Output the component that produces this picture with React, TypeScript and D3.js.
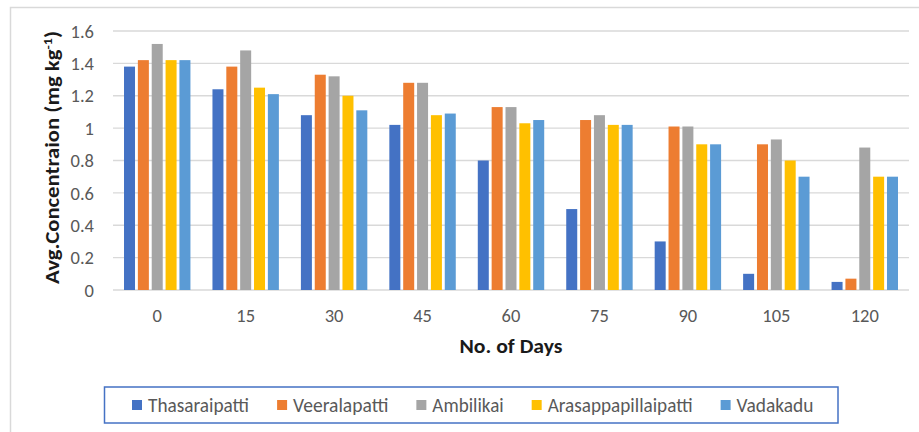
import React from "react";
import * as d3 from "d3";

const days = ["0", "15", "30", "45", "60", "75", "90", "105", "120"];
const seriesNames = ["Thasaraipatti", "Veeralapatti", "Ambilikai", "Arasappapillaipatti", "Vadakadu"];
const thasaraipatti = [1.38, 1.24, 1.08, 1.02, 0.8, 0.5, 0.3, 0.1, 0.05];
const veeralapatti = [1.42, 1.38, 1.33, 1.28, 1.13, 1.05, 1.01, 0.9, 0.07];
const ambilikai = [1.52, 1.48, 1.32, 1.28, 1.13, 1.08, 1.01, 0.93, 0.88];
const arasappapillaipatti = [1.42, 1.25, 1.2, 1.08, 1.03, 1.02, 0.9, 0.8, 0.7];
const vadakadu = [1.42, 1.21, 1.11, 1.09, 1.05, 1.02, 0.9, 0.7, 0.7];
const yTicks = [0, 0.2, 0.4, 0.6, 0.8, 1, 1.2, 1.4, 1.6];
const colors = ["#4472C4", "#ED7D31", "#A5A5A5", "#FFC000", "#5B9BD5"];

const allSeries = [thasaraipatti, veeralapatti, ambilikai, arasappapillaipatti, vadakadu];

const FONT = "Carlito, Lato, 'Open Sans', sans-serif";

export default function App() {
  const W = 919;
  const H = 432;
  const plotL = 113;
  const plotR = 909;
  const plotT = 31;
  const plotB = 290;

  const x0 = d3.scaleBand<string>().domain(days).range([plotL, plotR]).paddingInner(0).paddingOuter(0);
  const band = x0.bandwidth();
  const groupW = band * 0.751;
  const x1 = d3
    .scaleBand<string>()
    .domain(seriesNames)
    .range([(band - groupW) / 2, (band + groupW) / 2])
    .paddingInner(0.206)
    .paddingOuter(0);
  const y = d3.scaleLinear().domain([0, 1.6]).range([plotB, plotT]);

  // legend layout
  const legendTextSize = 19.5;
  const sq = 10;
  const charW = (s: string) => {
    // approximate Calibri advance widths (em) at 19px
    const m: Record<string, number> = {
      T: 0.487, V: 0.579, A: 0.579, a: 0.479, b: 0.525, d: 0.525, e: 0.498, h: 0.525, i: 0.229,
      k: 0.455, l: 0.229, m: 0.799, p: 0.525, r: 0.349, s: 0.391, t: 0.335, u: 0.525,
    };
    return s.split("").reduce((acc, c) => acc + (m[c] ?? 0.5), 0) * 19;
  };
  let lx = 132;
  const legendItems = seriesNames.map((name, i) => {
    const w = charW(name);
    const item = { name, color: colors[i], x: lx, w };
    lx += sq + 6 + w + 28;
    return item;
  });

  return (
    <div style={{ position: "fixed", left: 0, top: 0, width: W, height: H, background: "#fff" }}>
      <svg width={W} height={H} style={{ display: "block" }} fontFamily={FONT}>
        <rect x={0} y={0} width={W} height={H} fill="#fff" />
        <rect x={10.5} y={7.5} width={W + 20} height={H + 20} fill="none" stroke="#d9d9d9" strokeWidth={1.5} />
        {yTicks.map((t) => (
          <g key={t}>
            <line x1={plotL} x2={plotR} y1={y(t)} y2={y(t)} stroke="#d9d9d9" strokeWidth={1.3} />
            <text x={94} y={y(t)} dy="0.36em" textAnchor="end" fontSize={18.5} fill="#595959">
              {d3.format("")(t)}
            </text>
          </g>
        ))}
        {days.map((d, di) => (
          <g key={d} transform={`translate(${x0(d)},0)`}>
            {seriesNames.map((s, si) => {
              const v = allSeries[si][di];
              return (
                <rect
                  key={s}
                  x={x1(s)}
                  y={y(v)}
                  width={x1.bandwidth()}
                  height={y(0) - y(v)}
                  fill={colors[si]}
                />
              );
            })}
            <text x={band / 2} y={322} textAnchor="middle" fontSize={18.5} fill="#595959">
              {d}
            </text>
          </g>
        ))}
        <text
          x={(plotL + plotR) / 2 - 51.5}
          y={353}
          fontSize={19.5}
          fontWeight="bold"
          fill="#1a1a1a"
          textLength={103}
          lengthAdjust="spacingAndGlyphs"
        >
          No. of Days
        </text>
        <text
          transform={`translate(59,${(plotT + plotB) / 2 - 3 + 126.5}) rotate(-90)`}
          fontSize={19.5}
          fontWeight="bold"
          fill="#1a1a1a"
          textLength={253}
          lengthAdjust="spacingAndGlyphs"
        >
          Avg.Concentraion (mg kg
          <tspan baselineShift="super" fontSize={12}>-1</tspan>
          <tspan>)</tspan>
        </text>
        <rect x={104.5} y={387} width={733.5} height={36} fill="#fff" stroke="#4472C4" strokeWidth={1.5} />
        {legendItems.map((it) => (
          <g key={it.name}>
            <rect x={it.x} y={400} width={sq} height={sq} fill={it.color} />
            <text
              x={it.x + sq + 6}
              y={411.5}
              fontSize={legendTextSize}
              fill="#595959"
              textLength={it.w}
              lengthAdjust="spacingAndGlyphs"
            >
              {it.name}
            </text>
          </g>
        ))}
      </svg>
    </div>
  );
}
